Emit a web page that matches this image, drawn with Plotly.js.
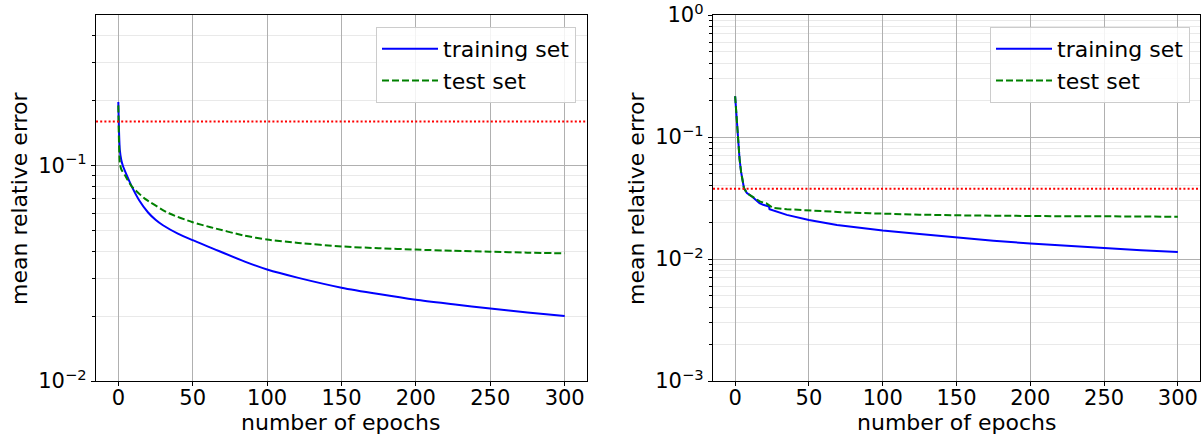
<!DOCTYPE html>
<html>
<head>
<meta charset="utf-8">
<script src="https://cdn.plot.ly/plotly-3.0.1.min.js"></script>
<style>html,body{margin:0;padding:0;background:#fff;}</style>
</head>
<body>
<div id="chart" style="width:1203px;height:434px;"></div>
<script>
// Left panel
const leftEpochsTrain = [0, 1, 2, 3, 6, 9, 14, 20, 25, 30, 40, 50, 62, 85, 100, 121, 150, 175, 200, 225, 250, 275, 300];
const leftTrain = [0.197, 0.118, 0.106, 0.1, 0.089, 0.08, 0.069, 0.0605, 0.056, 0.0528, 0.0483, 0.0450, 0.0416, 0.0358, 0.0329, 0.0301, 0.0271, 0.0253, 0.0238, 0.0227, 0.0217, 0.0208, 0.0200];
const leftEpochsTest = [0, 1, 2, 4.5, 9, 18, 34, 50, 62, 85, 100, 121, 150, 175, 200, 225, 250, 275, 300];
const leftTest = [0.19, 0.103, 0.096, 0.09, 0.08, 0.07, 0.06, 0.0545, 0.0517, 0.0472, 0.0453, 0.0437, 0.0421, 0.0413, 0.0407, 0.0402, 0.0398, 0.0394, 0.0391];
const leftThreshold = 0.16;

// Right panel
const rightEpochsTrain = [0, 1, 2, 3, 4, 5, 6, 8, 12, 16.5, 19, 22.9, 23.3, 35, 50, 69, 91, 100, 125, 150, 175, 200, 225, 250, 275, 300];
const rightTrain = [0.216, 0.14, 0.095, 0.066, 0.052, 0.044, 0.038, 0.0347, 0.0321, 0.0287, 0.0278, 0.0269, 0.0256, 0.0230, 0.0209, 0.0190, 0.0175, 0.0171, 0.0160, 0.0150, 0.0141, 0.0134, 0.0128, 0.0123, 0.0118, 0.0114];
const rightEpochsTest = [0, 1, 2, 3, 4, 5, 6, 8, 12, 14.3, 17, 21, 25.6, 35, 50, 75, 91, 100, 125, 150, 175, 200, 225, 250, 275, 300];
const rightTest = [0.216, 0.14, 0.095, 0.066, 0.052, 0.044, 0.038, 0.0347, 0.0322, 0.031, 0.0295, 0.0287, 0.0262, 0.0256, 0.0249, 0.0241, 0.0237, 0.0235, 0.0231, 0.0228, 0.0226, 0.0225, 0.0224, 0.0224, 0.0223, 0.0222];
const rightThreshold = 0.0376;

const xRange = [-15, 315];
const xTicks = [0, 50, 100, 150, 200, 250, 300];
const leftYTicks = [0.01, 0.1];
const leftYTickText = ['10<sup>−2</sup>', '10<sup>−1</sup>'];
const rightYTicks = [0.001, 0.01, 0.1, 1];
const rightYTickText = ['10<sup>−3</sup>', '10<sup>−2</sup>', '10<sup>−1</sup>', '10<sup>0</sup>'];
const xTitle = 'number of epochs';
const yTitle = 'mean relative error';

const FONT = 'DejaVu Sans, sans-serif';
const TICK_FS = 21;
const TITLE_FS = 22;

const traces = [
  {x: leftEpochsTrain, y: leftTrain, type: 'scatter', mode: 'lines', name: 'training set',
   line: {color: '#0000ff', width: 2, shape: 'spline', smoothing: 0.7}, xaxis: 'x', yaxis: 'y', legend: 'legend'},
  {x: leftEpochsTest, y: leftTest, type: 'scatter', mode: 'lines', name: 'test set',
   line: {color: '#008000', width: 2, dash: '7px,3px', shape: 'spline', smoothing: 0.6}, xaxis: 'x', yaxis: 'y', legend: 'legend'},
  {x: xRange, y: [leftThreshold, leftThreshold], type: 'scatter', mode: 'lines', showlegend: false,
   line: {color: '#ff0000', width: 2, dash: '2px,2.2px'}, xaxis: 'x', yaxis: 'y', hoverinfo: 'skip'},
  {x: rightEpochsTrain, y: rightTrain, type: 'scatter', mode: 'lines', name: 'training set',
   line: {color: '#0000ff', width: 2}, xaxis: 'x2', yaxis: 'y2', legend: 'legend2'},
  {x: rightEpochsTest, y: rightTest, type: 'scatter', mode: 'lines', name: 'test set',
   line: {color: '#008000', width: 2, dash: '7px,3px'}, xaxis: 'x2', yaxis: 'y2', legend: 'legend2'},
  {x: xRange, y: [rightThreshold, rightThreshold], type: 'scatter', mode: 'lines', showlegend: false,
   line: {color: '#ff0000', width: 2, dash: '2px,2.2px'}, xaxis: 'x2', yaxis: 'y2', hoverinfo: 'skip'}
];

function xAxis(domain, anchor) {
  return {
    domain: domain, anchor: anchor, range: xRange, tickvals: xTicks,
    showgrid: true, gridcolor: '#b0b0b0', gridwidth: 1, zeroline: false,
    showline: true, linecolor: '#000', linewidth: 1.2, mirror: true,
    ticks: 'outside', ticklen: 4, tickcolor: '#000', tickwidth: 1,
    ticklabeloverflow: 'allow', ticklabelstandoff: -6,
    tickfont: {family: FONT, size: TICK_FS, color: '#000'}
  };
}
function yAxis(domain, anchor, range, tv, tt) {
  return {
    domain: domain, anchor: anchor, type: 'log', range: range, tickvals: tv, ticktext: tt,
    showgrid: true, gridcolor: '#b0b0b0', gridwidth: 1, zeroline: false,
    showline: true, linecolor: '#000', linewidth: 1.2, mirror: true,
    ticks: 'outside', ticklen: 4, tickcolor: '#000', tickwidth: 1,
    ticklabeloverflow: 'allow',
    tickfont: {family: FONT, size: TICK_FS, color: '#000'},
    minor: {dtick: 'D1', showgrid: true, gridcolor: '#e9e9e9', gridwidth: 1, ticks: 'outside', ticklen: 2.5, tickcolor: '#000'}
  };
}

const titleFont = {family: FONT, size: TITLE_FS, color: '#000'};
const annotations = [
  {text: xTitle, xref: 'paper', yref: 'paper', x: 341 / 1203, y: 1 - 422 / 434, xanchor: 'center', yanchor: 'middle', showarrow: false, font: titleFont},
  {text: xTitle, xref: 'paper', yref: 'paper', x: 957 / 1203, y: 1 - 422 / 434, xanchor: 'center', yanchor: 'middle', showarrow: false, font: titleFont},
  {text: yTitle, xref: 'paper', yref: 'paper', x: 19 / 1203, y: 1 - 198 / 434, xanchor: 'center', yanchor: 'middle', textangle: -90, showarrow: false, font: titleFont},
  {text: yTitle, xref: 'paper', yref: 'paper', x: 636 / 1203, y: 1 - 198 / 434, xanchor: 'center', yanchor: 'middle', textangle: -90, showarrow: false, font: titleFont}
];

const yDom = [1 - 381 / 434, 1 - 15 / 434];
const layout = {
  width: 1203, height: 434,
  margin: {l: 0, r: 0, t: 0, b: 0},
  paper_bgcolor: '#fff', plot_bgcolor: '#fff',
  font: {family: FONT, size: TICK_FS, color: '#000'},
  xaxis: xAxis([96 / 1203, 587 / 1203], 'y'),
  yaxis: yAxis(yDom, 'x', [-2, -0.302], leftYTicks, leftYTickText),
  xaxis2: xAxis([713 / 1203, 1200 / 1203], 'y2'),
  yaxis2: yAxis(yDom, 'x2', [-3, 0], rightYTicks, rightYTickText),
  annotations: annotations,
  legend: {x: 576 / 1203, xanchor: 'right', y: 1 - 27 / 434, yanchor: 'top',
    bgcolor: 'rgba(255,255,255,0.85)', bordercolor: '#cccccc', borderwidth: 1,
    font: {family: FONT, size: TITLE_FS, color: '#000'}, itemwidth: 56, tracegroupgap: 0},
  legend2: {x: 1190 / 1203, xanchor: 'right', y: 1 - 27 / 434, yanchor: 'top',
    bgcolor: 'rgba(255,255,255,0.85)', bordercolor: '#cccccc', borderwidth: 1,
    font: {family: FONT, size: TITLE_FS, color: '#000'}, itemwidth: 56, tracegroupgap: 0},
  showlegend: true
};

Plotly.newPlot('chart', traces, layout, {staticPlot: true, displayModeBar: false});
</script>
</body>
</html>
